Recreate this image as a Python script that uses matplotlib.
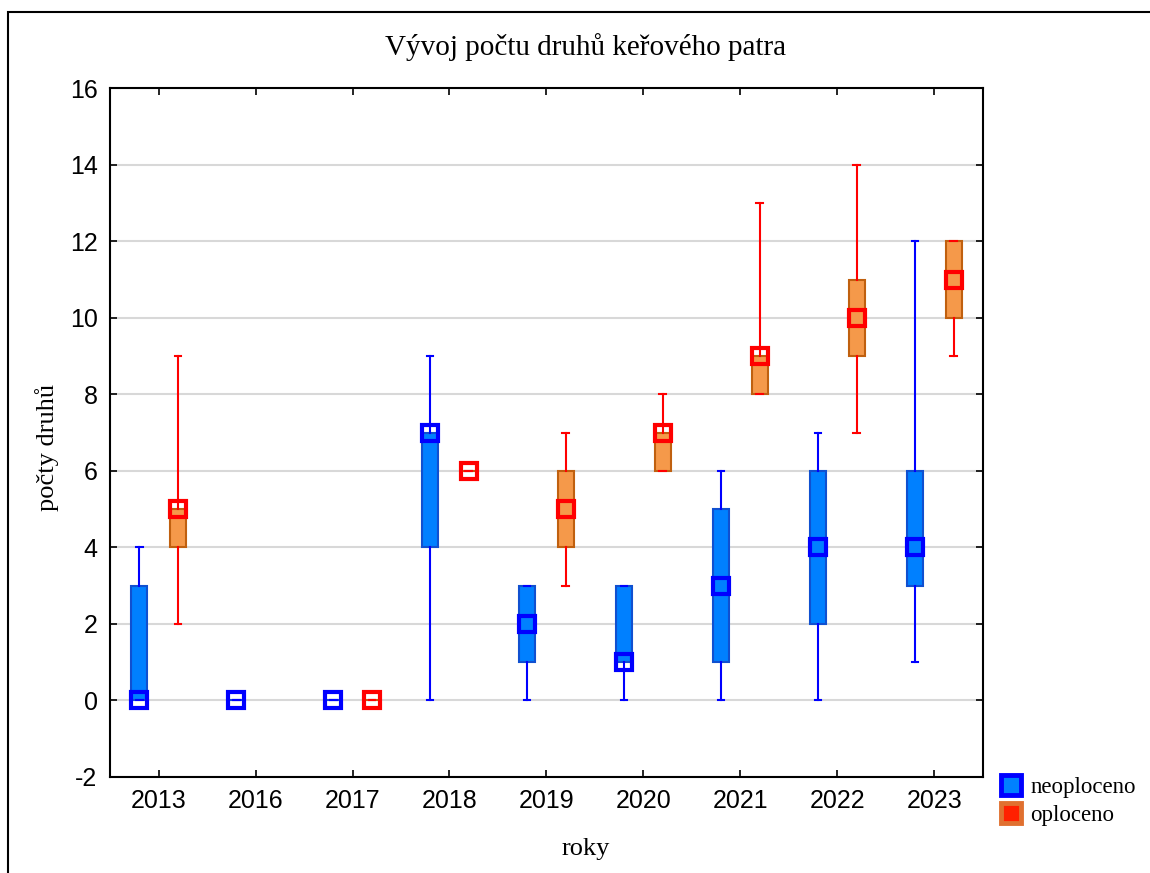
import numpy as np
import matplotlib
matplotlib.use("Agg")
import matplotlib.pyplot as plt
from matplotlib.lines import Line2D
from matplotlib.patches import Rectangle

# roky (categories)
years = ["2013", "2016", "2017", "2018", "2019", "2020", "2021", "2022", "2023"]

# neoploceno: median, box (q1, q3), whiskers (min, max)
neo_med = [0, 0, 0, 7, 2, 1, 3, 4, 4]
neo_q1 = [0, 0, 0, 4, 1, 1, 1, 2, 3]
neo_q3 = [3, 0, 0, 7, 3, 3, 5, 6, 6]
neo_min = [0, 0, 0, 0, 0, 0, 0, 0, 1]
neo_max = [4, 0, 0, 9, 3, 3, 6, 7, 12]

# oploceno (2016 missing)
opl_med = [5, np.nan, 0, 6, 5, 7, 9, 10, 11]
opl_q1 = [4, np.nan, 0, 6, 4, 6, 8, 9, 10]
opl_q3 = [5, np.nan, 0, 6, 6, 7, 9, 11, 12]
opl_min = [2, np.nan, 0, 6, 3, 6, 8, 7, 9]
opl_max = [9, np.nan, 0, 6, 7, 8, 13, 14, 12]

plt.rcParams['font.family'] = ['Liberation Sans', 'DejaVu Sans']
plt.rcParams['axes.unicode_minus'] = False
serif = ['Liberation Serif', 'DejaVu Serif']

fig = plt.figure(figsize=(11.5, 8.73), dpi=100)
ax = fig.add_axes([0.0957, 0.110, 0.759, 0.789])

# outer frame around the whole figure
fig.patches.append(Rectangle((0.007, -0.01), 1.2, 0.996, transform=fig.transFigure,
                             fill=False, edgecolor='black', linewidth=1.5))

def make_stats(med, q1, q3, lo, hi):
    out = []
    for m, a, b, c, d in zip(med, q1, q3, lo, hi):
        out.append(dict(med=m, q1=a, q3=b, whislo=c, whishi=d, fliers=[]))
    return out

x = np.arange(len(years))
off = 0.2
w = 0.16

series = [
    (neo_med, neo_q1, neo_q3, neo_min, neo_max, -off, '#0080FF', '#1050D0', '#0000FF'),
    (opl_med, opl_q1, opl_q3, opl_min, opl_max, off, '#F5994A', '#C0600F', '#FF0000'),
]

for med, q1, q3, lo, hi, dx, fc, ec, lc in series:
    keep = [i for i in range(len(years)) if not np.isnan(med[i])]
    stats = make_stats([med[i] for i in keep], [q1[i] for i in keep], [q3[i] for i in keep],
                       [lo[i] for i in keep], [hi[i] for i in keep])
    pos = x[keep] + dx
    ax.bxp(stats, positions=pos, widths=w, capwidths=0.07, patch_artist=True,
           showfliers=False,
           boxprops=dict(facecolor=fc, edgecolor=ec, linewidth=1.5),
           whiskerprops=dict(color=lc, linewidth=1.5),
           capprops=dict(color=lc, linewidth=1.5),
           medianprops=dict(linewidth=0), zorder=3)
    ax.plot(pos, [med[i] for i in keep], linestyle='none', marker='s', markersize=11,
            markerfacecolor='none', markeredgecolor=lc, markeredgewidth=3, zorder=4)

ax.set_xlim(-0.5, len(years) - 0.5)
ax.set_ylim(-2, 16)
ax.set_yticks(np.arange(-2, 17, 2))
ax.set_xticks(x)
ax.set_xticklabels(years)
ax.yaxis.grid(True, color='#D8D8D8', linewidth=1.5)
ax.set_axisbelow(True)
ax.tick_params(direction='in', top=True, right=True, length=5, width=1.2,
               labelsize=18, pad=9)
for s in ax.spines.values():
    s.set_linewidth(1.5)

ax.set_title("Vývoj počtu druhů keřového patra", family=serif, fontsize=21, pad=24, x=0.545)
ax.set_xlabel("roky", family=serif, fontsize=19, labelpad=18, x=0.545)
ax.set_ylabel("počty druhů", family=serif, fontsize=19, labelpad=8, y=0.479)

handles = [
    Line2D([], [], linestyle='none', marker='s', markersize=14, markerfacecolor='#0080FF',
           markeredgecolor='#0000FF', markeredgewidth=3.5),
    Line2D([], [], linestyle='none', marker='s', markersize=14, markerfacecolor='#FF2000',
           markeredgecolor='#E07030', markeredgewidth=3.5),
]
fig.legend(handles, ["neoploceno", "oploceno"], loc='upper left',
           bbox_to_anchor=(0.857, 0.128), frameon=False, handlelength=0.8,
           handletextpad=0.45, labelspacing=0.3, borderaxespad=0.3,
           prop=dict(family=serif, size=16.5))

fig.savefig("out.png", dpi=100)
